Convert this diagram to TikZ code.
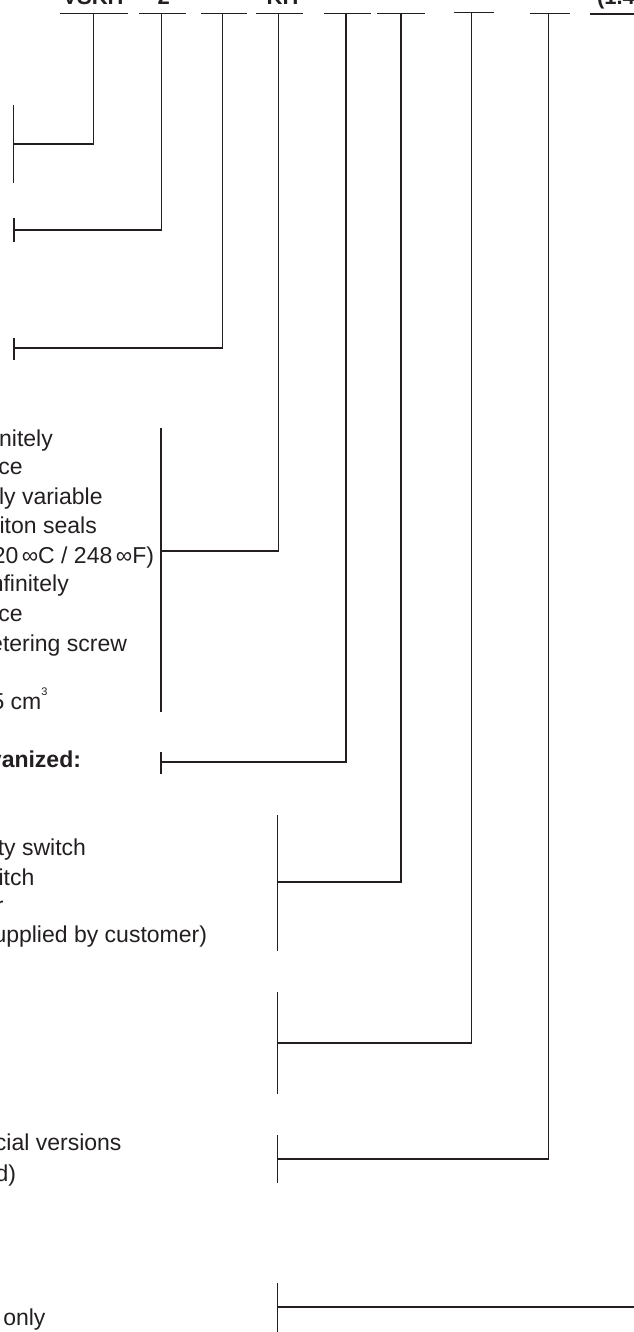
\documentclass[tikz,border=0pt]{standalone}
\usepackage{fontspec}
\setmainfont{Liberation Sans}
\definecolor{ink}{HTML}{231F20}
\begin{document}
\begin{tikzpicture}[x=1bp,y=-1bp,
  ln/.style={draw=ink, line width=1.4bp, line join=miter},
  lbl/.style={anchor=base east, inner sep=0pt, outer sep=0pt, text=ink,
              font=\fontsize{23bp}{29bp}\selectfont},
  blbl/.style={lbl, font=\fontsize{23bp}{29bp}\selectfont\bfseries},
  hdr/.style={anchor=base west, inner sep=0pt, outer sep=0pt, text=ink,
              font=\fontsize{22bp}{29bp}\selectfont\bfseries}]
\useasboundingbox (0,0) rectangle (634,1332);
\clip (0,0) rectangle (634,1332);

% ---- header codes ----
\node[hdr] (hVSKH) at (62.5,5) {VSKH};
\node[hdr] (h2)    at (157.6,5) {2};
\node[hdr] (hKH)   at (266.7,5) {KH};
\node[hdr] (h14)   at (597,5) {(1.4};

% ---- underlines of the code fields ----
\draw[ln] (60,13.5) -- (128,13.5);
\draw[ln] (139,13.5) -- (186,13.5);
\draw[ln] (201,13.5) -- (247,13.5);
\draw[ln] (256,13.5) -- (303,13.5);
\draw[ln] (323.5,13.5) -- (371,13.5);
\draw[ln] (377,13.5) -- (424.5,13.5);
\draw[ln] (453.5,12.8) -- (494,12.8);
\draw[ln] (530,13.5) -- (570,13.5);
\draw[ln] (590,14) -- (640,14);

% ---- column tops ----
\coordinate (c1) at (93.3,13.5);
\coordinate (c2) at (161.7,13.5);
\coordinate (c3) at (222.7,13.5);
\coordinate (c4) at (278.3,13.5);
\coordinate (c5) at (346,13.5);
\coordinate (c6) at (400.8,13.5);
\coordinate (c7) at (471.5,12.8);
\coordinate (c8) at (548.3,13.5);
\coordinate (c9) at (640,1307);

% ---- bracket junctions ----
\coordinate (b1) at (13.3,144);
\coordinate (b2) at (14,230);
\coordinate (b3) at (14,348);
\coordinate (b4) at (161,551);
\coordinate (b5) at (161,762);
\coordinate (b6) at (277.3,882);
\coordinate (b7) at (277.3,1043);
\coordinate (b8) at (277.3,1159);
\coordinate (b9) at (277.3,1307);

% ---- brackets ----
\draw[ln] (13.3,105) -- (13.3,183);
\draw[ln] (14,218) -- (14,242);
\draw[ln] (14,338) -- (14,360);
\draw[ln] (161,428) -- (161,712);
\draw[ln] (161,752) -- (161,774);
\draw[ln] (277.3,815) -- (277.3,951);
\draw[ln] (277.3,992) -- (277.3,1094);
\draw[ln] (277.3,1135) -- (277.3,1183);
\draw[ln] (277.3,1283) -- (277.3,1340);

% ---- connectors ----
\draw[ln] (c1) |- (b1);
\draw[ln] (c2) |- (b2);
\draw[ln] (c3) |- (b3);
\draw[ln] (c4) |- (b4);
\draw[ln] (c5) |- (b5);
\draw[ln] (c6) |- (b6);
\draw[ln] (c7) |- (b7);
\draw[ln] (c8) |- (b8);
\draw[ln] (c9) -- (b9);

% ---- texts ----
\node[lbl] (t1)  at (52.8,446) {nitely};
\node[lbl] (t2)  at (22.7,474) {ce};
\node[lbl] (t3)  at (102.6,504) {ly variable};
\node[lbl] (t4)  at (96.8,533) {iton seals};
\node[lbl] (t5)  at (154,563) {20\hspace{3.5bp}∞C / 248\hspace{3.5bp}∞F)};
\node[lbl] (t6)  at (68.8,591) {nfinitely};
\node[lbl] (t7)  at (22.7,621) {ce};
\node[lbl] (t8)  at (127,651) {etering screw};
\node[lbl] (t9)  at (47.5,709) {5 cm{\fontsize{11bp}{11bp}\selectfont\raisebox{14bp}{3}}};
\node[blbl] (t10) at (81,767) {vanized:};
\node[lbl] (t11) at (86,855) {ty switch};
\node[lbl] (t12) at (34.3,885) {itch};
\node[lbl] (t13) at (3.6,913) {r};
\node[lbl] (t14) at (207,942) {upplied by customer)};
\node[lbl] (t15) at (121.5,1150) {cial versions};
\node[lbl] (t16) at (16,1181) {d)};
\node[lbl] (t17) at (45.5,1325) {only};
\end{tikzpicture}
\end{document}
